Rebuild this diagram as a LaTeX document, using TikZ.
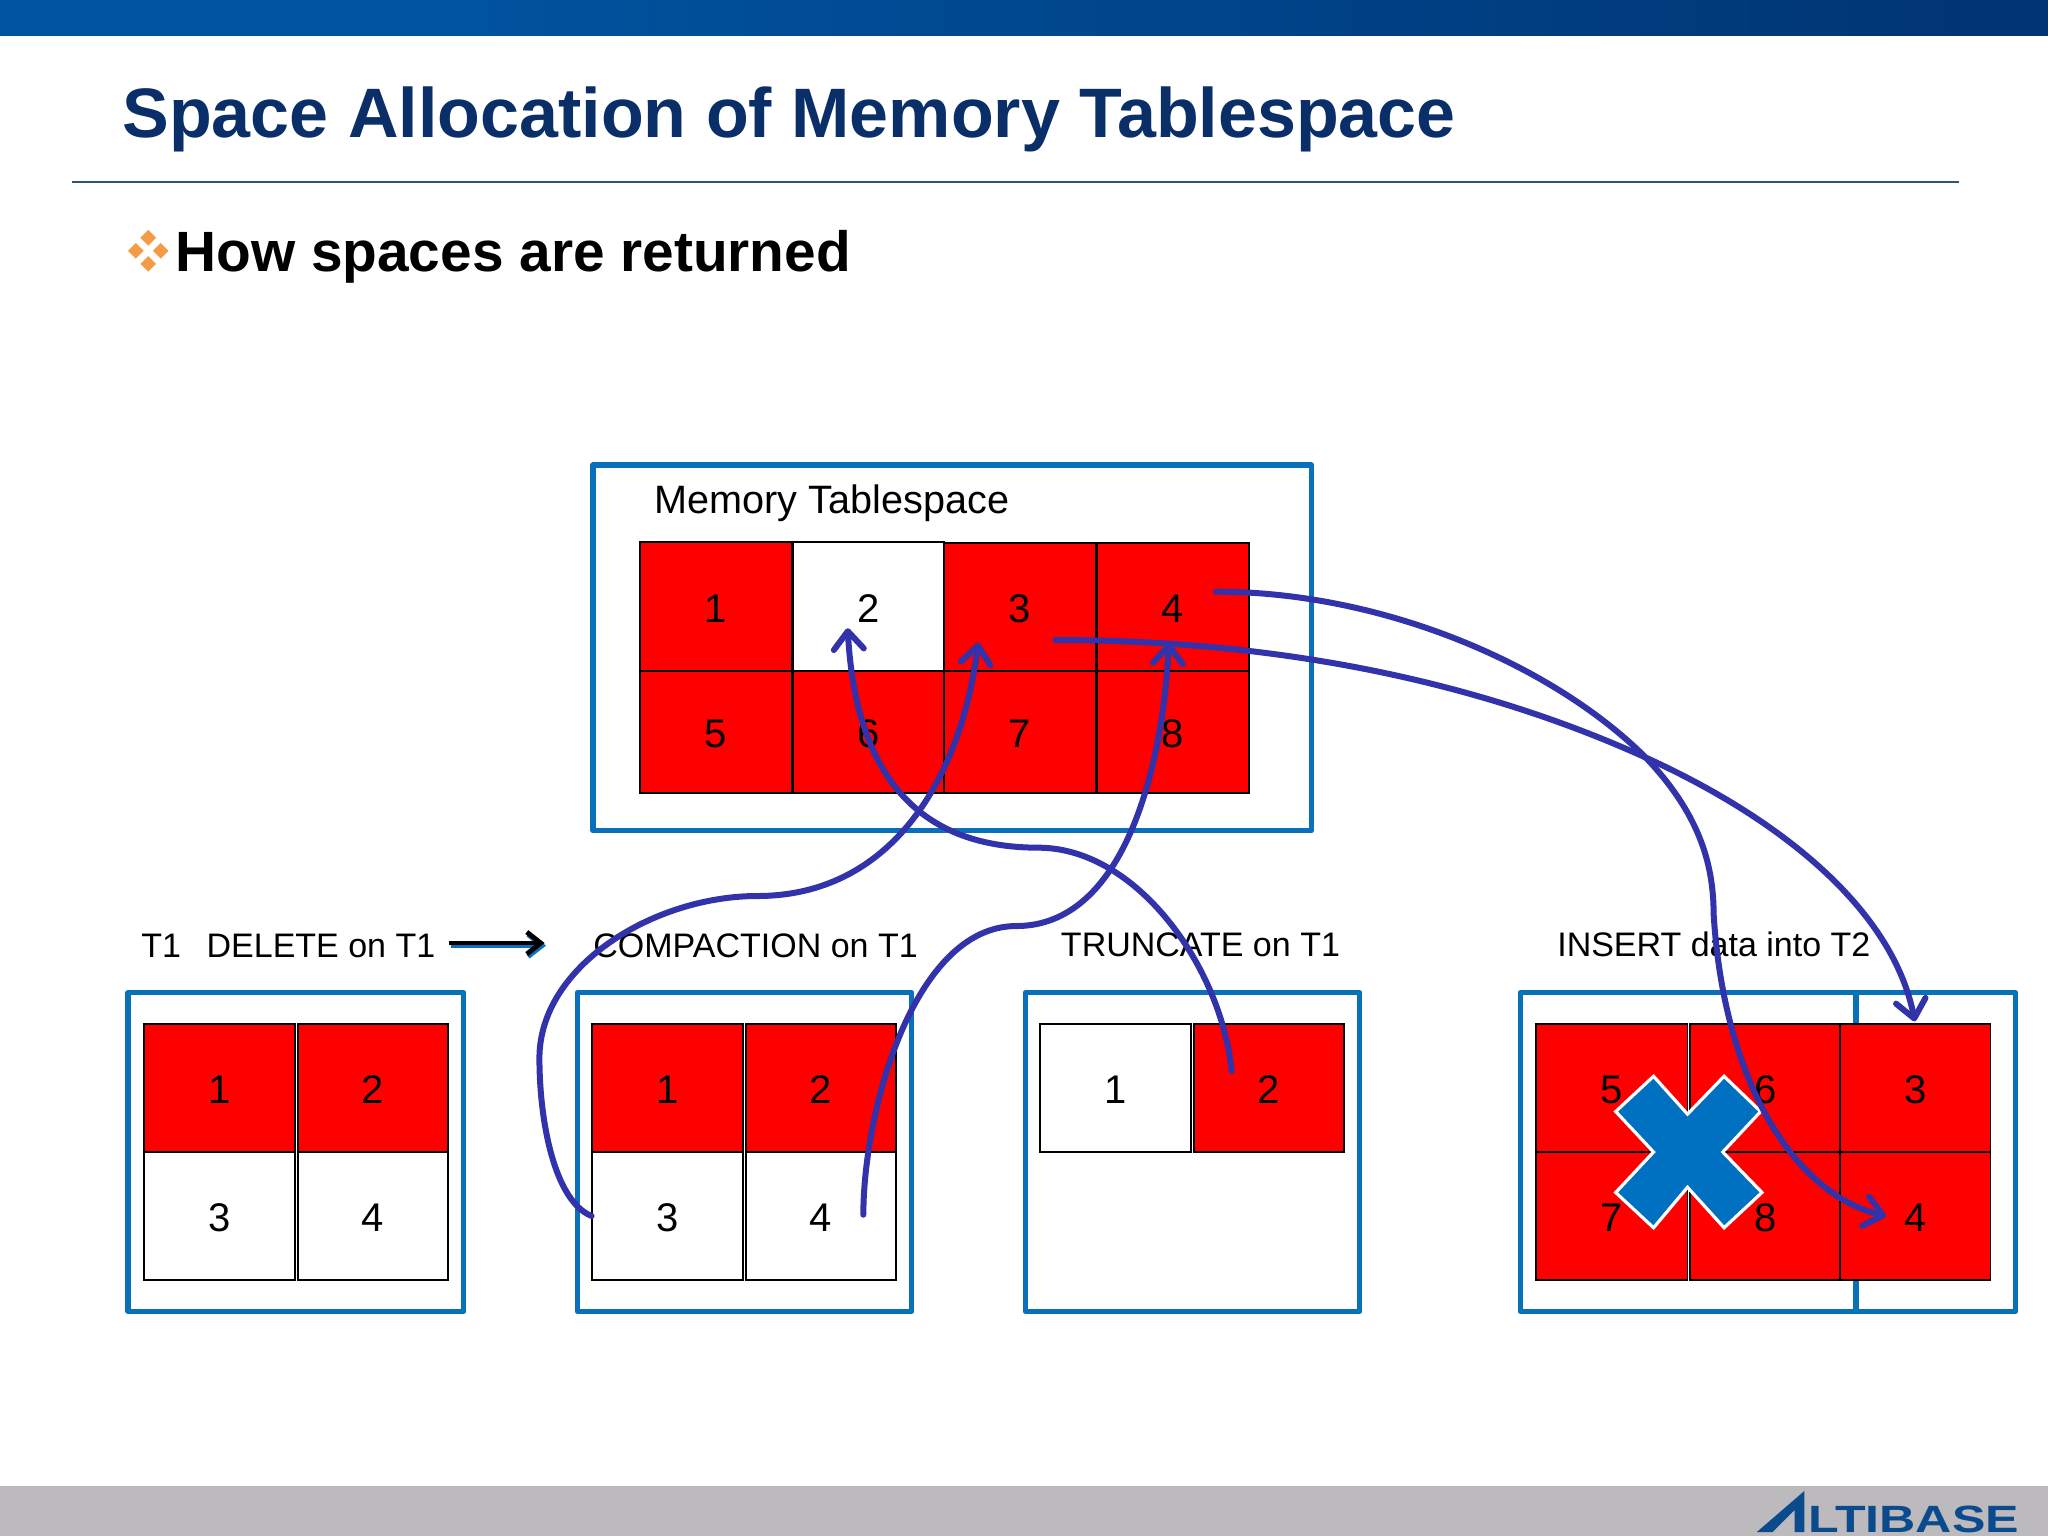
\documentclass[tikz,border=0pt]{standalone}
\usepackage{fontspec}
\usepackage{graphicx}
\setmainfont{Liberation Sans}
\usetikzlibrary{arrows.meta}
\definecolor{navy}{HTML}{0A2E68}
\definecolor{boxblue}{HTML}{0A70BC}
\definecolor{crossblue}{HTML}{0070C0}
\definecolor{curveblue}{HTML}{3232AA}
\definecolor{cellred}{HTML}{FF0000}
\definecolor{footgray}{HTML}{BCBABD}
\definecolor{rulecol}{HTML}{2F5570}
\definecolor{bulletor}{HTML}{F59A45}
\definecolor{logoblue}{HTML}{0B4A8C}
\pgfdeclarehorizontalshading{barshade}{100bp}{
  rgb(0bp)=(0,0.33,0.63); rgb(35bp)=(0,0.33,0.63); rgb(85bp)=(0,0.17,0.40); rgb(100bp)=(0.02,0.15,0.35)}
\tikzset{
  cellbox/.style={draw=black,line width=0.9pt,inner sep=0pt,outer sep=0pt,font=\fontsize{20}{20}\selectfont,text=black,text height=15.5pt,text depth=0pt},
  outerbox/.style={draw=boxblue,line width=2.6pt,inner sep=0pt,outer sep=0pt,line join=round,fill=white},
  lbl/.style={inner sep=0pt,anchor=base west,text=black,font=\fontsize{17}{17}\selectfont},
  flow/.style={draw=curveblue,line width=3pt,line cap=round},
  flowtip/.style={flow,-{Straight Barb[length=9pt,width=15pt,line width=3pt,round]}},
  diam/.style={fill=bulletor,draw=none},
}
\newcommand{\cellnode}[7]{\node[cellbox,fill=#6,minimum width={(#4-#2)*0.653pt},minimum height={(#5-#3)*0.653pt}] (#1) at ({(#2+#4)/2},{(#3+#5)/2}) {#7};}
\newcommand{\boxnode}[5]{\node[outerbox,minimum width={(#4-#2-2)*0.653pt},minimum height={(#5-#3-2)*0.653pt}] (#1) at ({(#2+#4)/2},{(#3+#5)/2}) {};}
\begin{document}
\begin{tikzpicture}[x=0.653pt,y=-0.653pt]
\useasboundingbox (0,0) rectangle (1568,1176);
\fill[white] (0,0) rectangle (1568,1176);
% header and footer
\shade[shading=barshade] (0,0) rectangle (1568,27);
\fill[footgray] (0,1138) rectangle (1568,1176);
\node[inner sep=0pt,anchor=base west,text=navy,font=\fontsize{35}{35}\bfseries\selectfont] (title) at (93.5,105) {Space Allocation of Memory Tablespace};
\coordinate (ruleL) at (55,139);
\coordinate (ruleR) at (1500,139);
\draw[rulecol,line width=1pt] (ruleL) -- (ruleR);
% bullet
\fill[diam] (113.5,176) -- (119.5,182) -- (113.5,188) -- (107.5,182) -- cycle;
\fill[diam] (104,186) -- (110,192) -- (104,198) -- (98,192) -- cycle;
\fill[diam] (123,186) -- (129,192) -- (123,198) -- (117,192) -- cycle;
\fill[diam] (113.5,196) -- (119.5,202) -- (113.5,208) -- (107.5,202) -- cycle;
\node[inner sep=0pt,anchor=base west,text=black,font=\fontsize{28.4}{28.4}\bfseries\selectfont] (sub) at (134,208) {How spaces are returned};
% tablespace
\boxnode{ts}{453}{355}{1005}{637}
\node[lbl,font=\fontsize{19.8}{19.8}\selectfont] (tslabel) at (501,393) {Memory Tablespace};
\cellnode{m1}{490}{415}{606}{514}{cellred}{1}
\cellnode{m2}{607}{415}{723}{514}{white}{2}
\cellnode{m3}{723}{416}{839}{514}{cellred}{3}
\cellnode{m4}{840}{416}{956}{514}{cellred}{4}
\cellnode{m5}{490}{514}{606}{607}{cellred}{5}
\cellnode{m6}{607}{514}{723}{607}{cellred}{6}
\cellnode{m7}{723}{514}{839}{607}{cellred}{7}
\cellnode{m8}{840}{514}{956}{607}{cellred}{8}
% lower labels
\node[lbl] (l1) at (108,733) {T1\hspace{0.75em}DELETE on T1};
\node[lbl] (l2) at (454,733) {COMPACTION on T1};
\node[lbl] (l3) at (812,732) {TRUNCATE on T1};
\node[lbl] (l4) at (1192,732) {INSERT data into T2};
\coordinate (delA) at (344,722);
\coordinate (delB) at (417,722);
\coordinate (delAs) at (345,724);
\coordinate (delBs) at (418,724);
\draw[boxblue,line width=2.4pt,-{Straight Barb[length=7pt,width=11pt,line width=2.4pt]}] (delAs) -- (delBs);
\draw[black,line width=2.4pt,-{Straight Barb[length=7pt,width=11pt,line width=2.4pt]}] (delA) -- (delB);
% box 1
\boxnode{b1}{97}{759}{356}{1005}
\cellnode{a1}{110}{784}{226}{882}{cellred}{1}
\cellnode{a2}{228}{784}{343}{882}{cellred}{2}
\cellnode{a3}{110}{882}{226}{980}{white}{3}
\cellnode{a4}{228}{882}{343}{980}{white}{4}
% box 2
\boxnode{b2}{441}{759}{699}{1005}
\cellnode{c1}{453}{784}{569}{882}{cellred}{1}
\cellnode{c2}{571}{784}{686}{882}{cellred}{2}
\cellnode{c3}{453}{882}{569}{980}{white}{3}
\cellnode{c4}{571}{882}{686}{980}{white}{4}
% box 3
\boxnode{b3}{784}{759}{1042}{1005}
\cellnode{d1}{796}{784}{912}{882}{white}{1}
\cellnode{d2}{914}{784}{1029}{882}{cellred}{2}
% box 4
\boxnode{b4}{1163}{759}{1422}{1005}
\boxnode{b5}{1420}{759}{1544}{1005}
\cellnode{e5}{1176}{784}{1292}{882}{cellred}{5}
\cellnode{e6}{1294}{784}{1409}{882}{cellred}{6}
\cellnode{e3}{1409}{784}{1524}{882}{cellred}{3}
\cellnode{e7}{1176}{882}{1292}{980}{cellred}{7}
\cellnode{e8}{1294}{882}{1409}{980}{cellred}{8}
\cellnode{e4}{1409}{882}{1524}{980}{cellred}{4}
% cross
\filldraw[fill=crossblue,draw=white,line width=1.6pt,line join=miter]
 (1266,824) -- (1292,853) -- (1320,824) -- (1348,851) -- (1319,882) -- (1349,913) -- (1320,940) -- (1292,909) -- (1266,940) -- (1237,913) -- (1266,882) -- (1237,851) -- cycle;
% connectors
\coordinate (fA0) at (453,931); \coordinate (fA1) at (413,810); \coordinate (fA2) at (580,686); \coordinate (fA3) at (749,492);
\coordinate (fB0) at (661,930); \coordinate (fB1) at (778,709); \coordinate (fB2) at (895,492);
\coordinate (fC0) at (943,820); \coordinate (fC1) at (795,649); \coordinate (fC2) at (649,481);
\coordinate (fD0) at (808,490); \coordinate (fD1) at (1260,580); \coordinate (fD2) at (1466,782);
\coordinate (fE0) at (931,453); \coordinate (fE1) at (1260,580); \coordinate (fE2) at (1312,700); \coordinate (fE3) at (1444,931);
\draw[flowtip] (fA0) .. controls (425,920) and (413,860) .. (fA1) .. controls (413,740) and (500,686) .. (fA2) .. controls (680,686) and (735,600) .. (fA3);
\draw[flowtip] (fB0) .. controls (661,850) and (700,709) .. (fB1) .. controls (860,709) and (890,590) .. (fB2);
\draw[flowtip] (fC0) .. controls (935,740) and (870,649) .. (fC1) .. controls (700,649) and (655,590) .. (fC2);
\draw[flowtip] (fD0) .. controls (1000,490) and (1150,530) .. (fD1) .. controls (1370,630) and (1450,700) .. (fD2);
\draw[flowtip] (fE0) .. controls (1060,453) and (1190,510) .. (fE1) .. controls (1300,622) and (1312,660) .. (fE2) .. controls (1320,830) and (1375,915) .. (fE3);
% logo
\fill[logoblue] (1345,1173) -- (1381.5,1141.5) -- (1381.5,1173) -- (1374,1173) -- (1374,1156) -- (1357,1173) -- cycle;
\node[inner sep=0pt,anchor=base west,text=logoblue,font=\fontsize{19}{19}\bfseries\selectfont] (logo) at (1384,1173) {\scalebox{1.32}[1]{LTIBASE}};
\end{tikzpicture}
\end{document}
